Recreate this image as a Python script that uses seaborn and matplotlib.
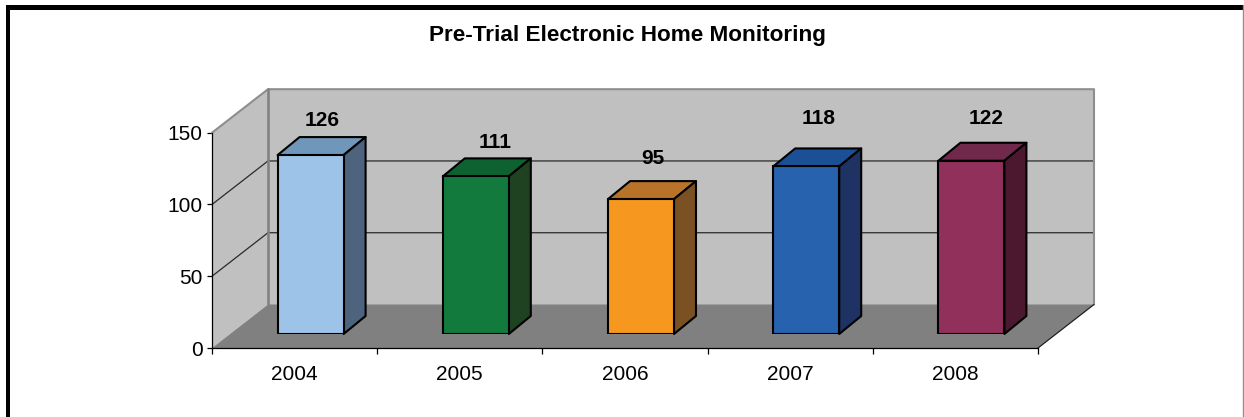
import matplotlib
matplotlib.use("Agg")
import matplotlib.pyplot as plt
from matplotlib.patches import Polygon, Rectangle
from matplotlib.lines import Line2D
import seaborn as sns
import pandas as pd

years = ["2004", "2005", "2006", "2007", "2008"]
counts = [126, 111, 95, 118, 122]
front_colors = ["#9DC3E8", "#127A3D", "#F6971F", "#2662AE", "#92305C"]
top_colors = ["#7096BA", "#0E6232", "#B8722A", "#1B4F96", "#70284B"]
side_colors = ["#4E637E", "#1F4220", "#7B5023", "#1E3363", "#4C1830"]
label_offsets_px = [(1, 17), (8, 16), (1, 23), (1, 30), (4, 24)]
yticks = [0, 50, 100, 150]

W, H = 1244, 417
sns.set_theme(style="white")
plt.rcParams["font.family"] = ["Liberation Sans", "DejaVu Sans"]
fig = plt.figure(figsize=(W / 100, H / 100), dpi=100, facecolor="white")

def box(l, t, r, b):
    return [l / W, 1 - b / H, (r - l) / W, (b - t) / H]

# page frame
fig.add_artist(Rectangle((6 / W, 0), 4 / W, 1 - 5 / H, transform=fig.transFigure, fc="black", ec="none"))
fig.add_artist(Rectangle((6 / W, 1 - 10 / H), 1237 / W, 5 / H, transform=fig.transFigure, fc="black", ec="none"))
fig.add_artist(Line2D([1243.3 / W] * 2, [0, 1 - 5 / H], transform=fig.transFigure, color="#909090", lw=1))

fig.text(627 / W, 1 - 35 / H, "Pre-Trial Electronic Home Monitoring", ha="center", va="center",
         fontsize=16.2, fontweight="bold", color="black")

# main axes: front plane of the 3D box
L, R, T, B = 212, 1038, 132.7, 348
ax = fig.add_axes(box(L, T, R, B), facecolor="none")
ax.set_xlim(-0.5, 4.5)
ax.set_ylim(0, 150)
sx = (R - L) / 5
sy = (B - T) / 150
DX, DY = 56 / sx, 43.5 / sy
x0, x1 = -0.5, 4.5
ymax = 150
ax.add_patch(Polygon([(x0 + DX, 0 + DY), (x1 + DX, DY), (x1 + DX, ymax + DY), (x0 + DX, ymax + DY)],
                     fc="#C0C0C0", ec="none", clip_on=False, zorder=0))
ax.add_patch(Polygon([(x0, 0), (x0 + DX, DY), (x0 + DX, ymax + DY), (x0, ymax)],
                     fc="#C0C0C0", ec="none", clip_on=False, zorder=0))
ax.add_patch(Polygon([(x0, 0), (x1, 0), (x1 + DX, DY), (x0 + DX, DY)],
                     fc="#808080", ec="none", clip_on=False, zorder=0.5))
for v in yticks[1:-1]:
    ax.plot([x0, x0 + DX, x1 + DX], [v, v + DY, v + DY], color="#2a2a2a", lw=0.9, clip_on=False, zorder=0.6)
ax.plot([x0, x0 + DX, x1 + DX, x1 + DX], [ymax, ymax + DY, ymax + DY, DY], color="#8E8E8E", lw=1.5,
        clip_on=False, zorder=0.7)
ax.plot([x0 + DX, x0 + DX], [DY, ymax + DY], color="#808080", lw=1.8, clip_on=False, zorder=0.7)
ax.plot([x1, x1 + DX], [0, DY], color="#202020", lw=0.9, clip_on=False, zorder=0.7)

for s in ["top", "right"]:
    ax.spines[s].set_visible(False)
for s in ["left", "bottom"]:
    ax.spines[s].set_color("black")
    ax.spines[s].set_linewidth(0.9)
ax.set_yticks(yticks)
ax.set_xticks([i - 0.5 for i in range(6)])
ax.set_xticklabels([])
ax.set_xticks(range(5), years, minor=True)
ax.tick_params(axis="x", which="major", bottom=True, length=4.2, width=0.9, color="black")
ax.tick_params(axis="x", which="minor", bottom=False, length=0, pad=12, labelsize=15, labelcolor="black")
ax.tick_params(axis="y", left=True, length=3.6, width=0.9, color="black", labelsize=15, labelcolor="black", pad=3)

# bars sit on an inset plane, shifted into the box
ox, oy = 16, 14
bx = fig.add_axes(box(L + ox, T - oy, R + ox, B - oy), facecolor="none")
df = pd.DataFrame({"year": years, "count": counts})
sns.barplot(data=df, x="year", y="count", hue="year", palette=front_colors, legend=False, saturation=1,
            width=66 / sx, edgecolor="black", linewidth=1.5, ax=bx, zorder=3)
bx.set_xlim(-0.5, 4.5)
bsy = 1.42
bx.set_ylim(0, (B - T) / bsy)
bx.axis("off")
dx, dy = 22 / sx, 18 / bsy
for p, tc, sc, off in zip(bx.patches, top_colors, side_colors, label_offsets_px):
    l, w, h = p.get_x(), p.get_width(), p.get_height()
    r = l + w
    bx.add_patch(Polygon([(l, h), (r, h), (r + dx, h + dy), (l + dx, h + dy)], fc=tc, ec="black",
                         lw=1.5, joinstyle="round", clip_on=False, zorder=2))
    bx.add_patch(Polygon([(r, 0), (r + dx, dy), (r + dx, h + dy), (r, h)], fc=sc, ec="black",
                         lw=1.5, joinstyle="round", clip_on=False, zorder=2))
    bx.annotate(f"{h:.0f}", xy=(l + w / 2 + dx / 2, h + dy), xytext=(off[0] * 0.72, off[1] * 0.72),
                textcoords="offset points", ha="center", va="center", fontsize=15,
                fontweight="bold", color="black", annotation_clip=False, zorder=5)

fig.savefig("out.png", dpi=100, facecolor="white")
